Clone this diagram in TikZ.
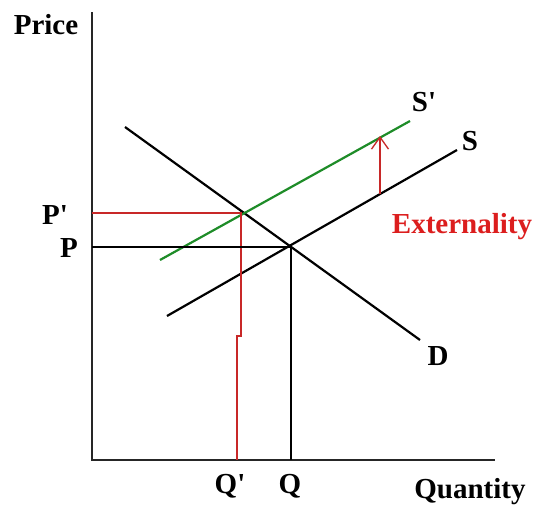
\documentclass[tikz,border=0pt]{standalone}
\usepackage{fontspec}
\setmainfont{Liberation Serif}
\usetikzlibrary{arrows.meta}
\definecolor{extred}{RGB}{220,30,30}
\definecolor{guidered}{RGB}{200,40,40}
\definecolor{sgreen}{RGB}{30,140,40}
\newcommand{\prm}{\textquotesingle}
\begin{document}
\begin{tikzpicture}[x=1pt,y=-1pt,
  lab/.style={font=\fontsize{29}{31}\selectfont\bfseries, inner sep=0pt},
  axis/.style={line width=1.6pt, black!85},
  curve/.style={line width=2.2pt},
  guide/.style={line width=1.3pt}]
\useasboundingbox (0,0) rectangle (540,506);
\fill[white] (0,0) rectangle (540,506);
% axes
\coordinate (ytop) at (92,12);
\coordinate (orig) at (92,460);
\coordinate (xend) at (495,460);
\draw[axis] (ytop) -- (orig) -- (xend);
% curves
\coordinate (d1) at (125,127);
\coordinate (d2) at (420,340);
\coordinate (s1) at (167,316);
\coordinate (s2) at (457,150);
\coordinate (sp1) at (160,260);
\coordinate (sp2) at (410,121);
\draw[curve] (d1) -- (d2);
\draw[curve] (s1) -- (s2);
\draw[curve, sgreen] (sp1) -- (sp2);
% guides
\coordinate (pp) at (92,213);
\coordinate (ep) at (241,213);
\coordinate (jog1) at (241,336);
\coordinate (jog2) at (237,336);
\coordinate (qp) at (237,460);
\draw[guide, guidered] (pp) -- (ep) -- (jog1) -- (jog2) -- (qp);
\coordinate (p) at (92,247);
\coordinate (e) at (291,247);
\coordinate (q) at (291,460);
\draw[guide] (p) -- (e) -- (q);
% externality arrow
\coordinate (a1) at (380,194);
\coordinate (a2) at (380,136);
\draw[guide, guidered, -{Straight Barb[length=12pt,width=17pt,line width=1.3pt]}] (a1) -- (a2);
% labels
\node[lab] (price) at (46,25) {Price};
\node[lab] (Pp) at (55,215) {P\prm};
\node[lab] (P) at (69,248) {P};
\node[lab] (Qp) at (230,486) {Q\prm};
\node[lab] (Q) at (290,486) {Q};
\node[lab, anchor=base] (quant) at (470,498) {Quantity};
\node[lab] (Sp) at (424,102) {S\prm};
\node[lab] (S) at (470,141) {S};
\node[lab] (D) at (438,356) {D};
\node[lab, text=extred] (ext) at (462,227) {Externality};
\end{tikzpicture}
\end{document}
